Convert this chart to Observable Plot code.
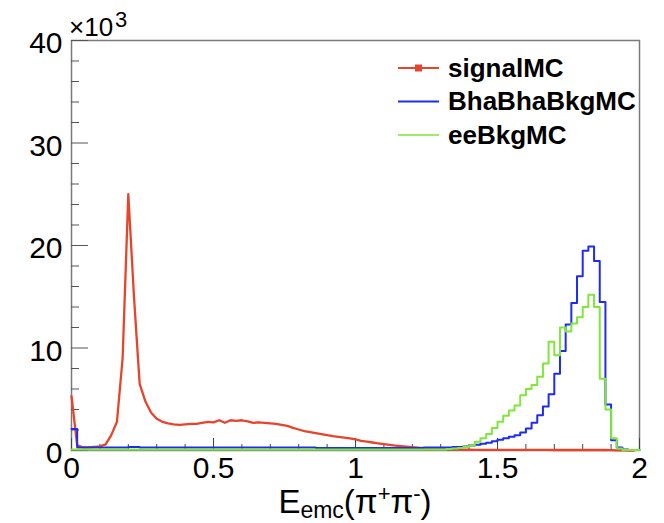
<!DOCTYPE html>
<html>
<head>
<meta charset="utf-8">
<script src="https://cdn.jsdelivr.net/npm/d3@7"></script>
<script src="https://cdn.jsdelivr.net/npm/@observablehq/plot@0.6"></script>
<style>
  html, body { margin: 0; padding: 0; background: #fff; }
  #chart { position: relative; width: 664px; height: 523px; overflow: hidden; }
</style>
</head>
<body>
<div id="chart"></div>
<script>
// ---- data (values in units of 10^3 entries, 100 bins of width 0.02 on [0, 2]) ----
const binWidth = 0.02;

const signalMC = [
  5.3, 0.5, 0.3, 0.3, 0.35, 0.4, 0.6, 1.5, 2.8, 9.0,
  25.0, 15.0, 6.5, 4.8, 3.7, 3.1, 2.8, 2.65, 2.55, 2.5,
  2.55, 2.6, 2.6, 2.7, 2.8, 2.75, 2.95, 2.7, 2.95, 2.9,
  2.95, 2.85, 2.7, 2.75, 2.7, 2.65, 2.6, 2.5, 2.4, 2.2,
  2.05, 1.9, 1.8, 1.7, 1.6, 1.5, 1.4, 1.32, 1.25, 1.18,
  1.08, 0.95, 0.86, 0.78, 0.7, 0.62, 0.55, 0.48, 0.42, 0.37,
  0.32, 0.28, 0.24, 0.21, 0.18, 0.15, 0.13, 0.11, 0.1, 0.09,
  0.08, 0.07, 0.07, 0.06, 0.06, 0.06, 0.06, 0.06, 0.06, 0.06,
  0.06, 0.06, 0.06, 0.06, 0.06, 0.05, 0.05, 0.05, 0.05, 0.05,
  0.05, 0.05, 0.05, 0.05, 0.05, 0.04, 0.02, 0.01, 0, 0
];

const bhabhaBkgMC = [
  2.1, 0.3, 0.3, 0.3, 0.3, 0.3, 0.3, 0.3, 0.3, 0.3,
  0.35, 0.35, 0.3, 0.3, 0.3, 0.3, 0.3, 0.3, 0.3, 0.3,
  0.3, 0.3, 0.3, 0.3, 0.3, 0.3, 0.3, 0.3, 0.3, 0.3,
  0.3, 0.3, 0.3, 0.3, 0.3, 0.3, 0.3, 0.3, 0.3, 0.3,
  0.3, 0.3, 0.3, 0.25, 0.25, 0.25, 0.25, 0.25, 0.25, 0.25,
  0.25, 0.25, 0.25, 0.25, 0.25, 0.25, 0.25, 0.25, 0.25, 0.25,
  0.25, 0.25, 0.3, 0.3, 0.3, 0.3, 0.3, 0.35, 0.35, 0.4,
  0.5, 0.55, 0.65, 0.75, 0.9, 1.05, 1.2, 1.35, 1.5, 1.75,
  2.15, 2.7, 3.45, 4.3, 5.5, 7.5, 9.7, 12.3, 14.4, 17.0,
  19.5, 19.9, 18.5, 14.5, 4.5, 1.0, 0.3, 0.1, 0.05, 0.05
];

const eeBkgMC = [
  0.1, 0.1, 0.1, 0.1, 0.1, 0.1, 0.1, 0.1, 0.1, 0.1,
  0.1, 0.1, 0.1, 0.1, 0.1, 0.1, 0.1, 0.1, 0.1, 0.1,
  0.1, 0.1, 0.1, 0.1, 0.1, 0.1, 0.1, 0.1, 0.1, 0.1,
  0.1, 0.1, 0.1, 0.1, 0.1, 0.1, 0.1, 0.1, 0.1, 0.1,
  0.1, 0.1, 0.1, 0.1, 0.1, 0.1, 0.1, 0.1, 0.1, 0.1,
  0.1, 0.1, 0.1, 0.1, 0.1, 0.1, 0.1, 0.1, 0.1, 0.1,
  0.1, 0.1, 0.1, 0.1, 0.1, 0.1, 0.15, 0.2, 0.25, 0.35,
  0.5, 0.85, 1.2, 1.6, 2.2, 2.8, 3.4, 3.9, 4.4, 5.4,
  6.0, 6.4, 7.2, 8.5, 10.6, 9.3, 12.0, 11.6, 12.4, 13.0,
  14.0, 15.2, 14.0, 7.0, 4.0, 1.2, 0.2, 0.05, 0.05, 0.05
];

const seriesNames = ["signalMC", "BhaBhaBkgMC", "eeBkgMC"];
const seriesColors = ["#e8442a", "#1e2cf2", "#7fe63c"];

const xMajorTicks = [0, 0.5, 1, 1.5, 2];
const xTickLabels = ["0", "0.5", "1", "1.5", "2"];
const xMinorTicks = [0.1, 0.2, 0.3, 0.4, 0.6, 0.7, 0.8, 0.9, 1.1, 1.2, 1.3, 1.4, 1.6, 1.7, 1.8, 1.9];
const yMajorTicks = [0, 10, 20, 30, 40];
const yTickLabels = ["0", "10", "20", "30", "40"];
const yMinorTicks = [2, 4, 6, 8, 12, 14, 16, 18, 22, 24, 26, 28, 32, 34, 36, 38];
const yMultiplier = {base: "×10", exponent: "3"};
const xTitle = {main: "E", sub: "emc", parts: ["(π", "+", "π", "-", ")"]};

// ---- build tables ----
const signalPts = signalMC.map((v, i) => ({x: i * binWidth, y: v}));
function histPts(vals) {
  const pts = vals.map((v, i) => ({x: i * binWidth, y: v}));
  pts.push({x: vals.length * binWidth, y: vals[vals.length - 1]});
  return pts;
}
const bhPts = histPts(bhabhaBkgMC);
const eePts = histPts(eeBkgMC);

const fontFamily = '"Liberation Sans", Arial, Helvetica, sans-serif';

const plot = Plot.plot({
  width: 664,
  height: 523,
  marginLeft: 71,
  marginRight: 25,
  marginTop: 40,
  marginBottom: 73,
  style: {fontFamily, background: "white", color: "black"},
  x: {domain: [0, 2]},
  y: {domain: [0, 40]},
  marks: [
    Plot.frame({stroke: "#7a7a7a", strokeWidth: 1.5}),
    Plot.ruleX(xMinorTicks, {x: d => d, y1: 0, y2: 0, insetTop: -6, stroke: "#444", strokeWidth: 1}),
    Plot.ruleX(xMajorTicks, {x: d => d, y1: 0, y2: 0, insetTop: -12, stroke: "#444", strokeWidth: 1}),
    Plot.ruleY(yMinorTicks, {y: d => d, x1: 0, x2: 0, insetRight: -8, stroke: "#555", strokeWidth: 1}),
    Plot.ruleY(yMajorTicks, {y: d => d, x1: 0, x2: 0, insetRight: -17, stroke: "#555", strokeWidth: 1}),
    Plot.line(signalPts, {x: "x", y: "y", stroke: seriesColors[0], strokeWidth: 2.3}),
    Plot.line(bhPts, {x: "x", y: "y", curve: "step-after", stroke: seriesColors[1], strokeWidth: 2}),
    Plot.line(eePts, {x: "x", y: "y", curve: "step-after", stroke: seriesColors[2], strokeWidth: 2}),
    Plot.axisX(xMajorTicks, {tickSize: 0, tickPadding: 6, fontSize: 30, label: null,
      tickFormat: d => xTickLabels[xMajorTicks.indexOf(d)]}),
    Plot.axisY(yMajorTicks, {tickSize: 0, tickPadding: 9, fontSize: 30, label: null, dy: 3,
      tickFormat: d => yTickLabels[yMajorTicks.indexOf(d)]})
  ]
});

document.getElementById("chart").appendChild(plot);

const svg = d3.select(plot);
const xs = plot.scale("x");

// ×10^3 multiplier
const mult = svg.append("text")
  .attr("x", 69).attr("y", 36)
  .attr("text-anchor", "start")
  .attr("font-family", fontFamily).attr("font-size", 26).attr("fill", "black");
mult.append("tspan").text(yMultiplier.base);
mult.append("tspan").attr("dx", 2).attr("dy", -9).attr("font-size", 22).text(yMultiplier.exponent);

// x-axis title with sub/superscripts
const t = svg.append("text")
  .attr("x", xs.apply(1)).attr("y", 513)
  .attr("text-anchor", "middle")
  .attr("font-family", fontFamily).attr("font-size", 33).attr("fill", "black");
t.append("tspan").text(xTitle.main);
t.append("tspan").attr("font-size", 23).attr("dy", 5).text(xTitle.sub);
t.append("tspan").attr("dy", -5).text(xTitle.parts[0]);
t.append("tspan").attr("font-size", 22).attr("dy", -12).text(xTitle.parts[1]);
t.append("tspan").attr("dy", 12).text(xTitle.parts[2]);
t.append("tspan").attr("font-size", 22).attr("dy", -12).text(xTitle.parts[3]);
t.append("tspan").attr("dy", 12).text(xTitle.parts[4]);

// legend
const lg = svg.append("g");
seriesNames.forEach((name, i) => {
  const cy = 68 + i * 33.5;
  lg.append("line")
    .attr("x1", 398).attr("x2", 439).attr("y1", cy).attr("y2", cy)
    .attr("stroke", seriesColors[i]).attr("stroke-width", i === 2 ? 1.6 : 2);
  if (i === 0) {
    lg.append("rect").attr("x", 415).attr("y", cy - 3.5).attr("width", 7).attr("height", 7)
      .attr("fill", seriesColors[i]);
  }
  lg.append("text")
    .attr("x", 448).attr("y", cy + 8.5)
    .attr("text-anchor", "start")
    .attr("font-family", fontFamily).attr("font-size", 26).attr("font-weight", "bold")
    .attr("fill", "black").text(name);
});
</script>
</body>
</html>
